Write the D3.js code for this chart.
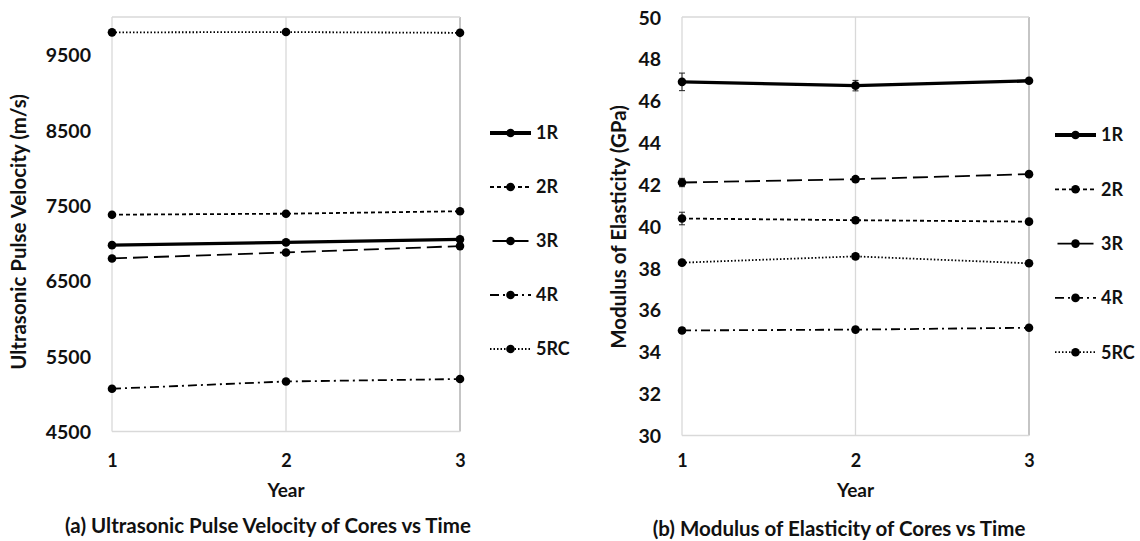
<!DOCTYPE html>
<html><head><meta charset="utf-8">
<script src="https://cdn.jsdelivr.net/npm/d3@7"></script>
<style>
body{margin:0;background:#fff;}
text{font-family:Lato,"Open Sans",sans-serif;font-weight:bold;fill:#111;}
</style></head>
<body><svg id="c" width="1140" height="541"></svg>
<script>
const years = [1, 2, 3];
const seriesNames = ["1R", "2R", "3R", "4R", "5RC"];
// Ultrasonic pulse velocity (m/s)
const upv1R = [6973, 7009, 7049];
const upv2R = [7377, 7390, 7423];
const upv3R = [6796, 6876, 6960];
const upv4R = [5067, 5164, 5196];
const upv5RC = [9796, 9800, 9790];
// Modulus of elasticity (GPa)
const moe1R = [46.9, 46.72, 46.95];
const moe2R = [40.37, 40.29, 40.22];
const moe3R = [42.09, 42.25, 42.49];
const moe4R = [35.02, 35.06, 35.15];
const moe5RC = [38.26, 38.56, 38.23];
const moeErr1R = [0.42, 0.25, 0.1];
const moeErr2R = [0.3, 0.12, 0.1];
const moeErr3R = [0.2, 0.12, 0.1];
const moeErr4R = [0.12, 0.1, 0.1];
const moeErr5RC = [0.1, 0.12, 0.1];
const upvTicks = [4500, 5500, 6500, 7500, 8500, 9500];
const moeTicks = [30, 32, 34, 36, 38, 40, 42, 44, 46, 48, 50];

const styles = {
  "1R": {w: 3.4, lw: 4, dash: null, lo: 0},
  "2R": {w: 1.8, lw: 1.8, dash: "4,3", lo: 0},
  "3R": {w: 1.8, lw: 1.8, dash: "15,6", lo: -2.5},
  "4R": {w: 1.8, lw: 1.8, dash: "9,4,2,4", lo: 0},
  "5RC": {w: 1.8, lw: 1.8, dash: "1.5,2", lo: 0}
};

const svg = d3.select("#c");

function panel(cfg) {
  const x = d3.scaleLinear().domain([1, 3]).range([cfg.x0, cfg.x1]);
  const y = d3.scaleLinear().domain(cfg.ydom).range([cfg.y0, cfg.y1]);
  const g = svg.append("g");
  // vertical gridlines
  g.selectAll(".vg").data(years).join("line")
    .attr("x1", d => x(d)).attr("x2", d => x(d))
    .attr("y1", y(cfg.ydom[0])).attr("y2", y(cfg.ydom[1]))
    .attr("stroke", d => d === 3 ? "#a6a6a6" : "#d9d9d9").attr("stroke-width", 1.3);
  // top & bottom border
  [cfg.ydom[0], cfg.ydom[1]].forEach(v => {
    g.append("line").attr("x1", x(1)).attr("x2", x(3)).attr("y1", y(v)).attr("y2", y(v))
      .attr("stroke", "#d9d9d9").attr("stroke-width", 1.3);
  });
  // y axis
  const ya = d3.axisLeft(y).tickValues(cfg.ticks).tickSize(0).tickPadding(21).tickFormat(d3.format("d"));
  const yg = g.append("g").attr("transform", `translate(${x(1)},0)`).call(ya);
  yg.select(".domain").remove();
  yg.selectAll("text").style("font-size", "19.5px").attr("dy", "0.36em");
  // x axis
  const xa = d3.axisBottom(x).tickValues(years).tickSize(0).tickPadding(0).tickFormat(d3.format("d"));
  const xg = g.append("g").attr("transform", `translate(0,${cfg.tickY})`).call(xa);
  xg.select(".domain").remove();
  xg.selectAll("text").style("font-size", "18px").attr("dy", "0").attr("y", 0);
  // titles
  g.append("text").attr("x", x(2)).attr("y", cfg.yearY).attr("text-anchor", "middle")
    .style("font-size", "19px").text("Year");
  g.append("text").attr("transform", `translate(${cfg.ytx},${cfg.ytc}) rotate(-90)`)
    .attr("text-anchor", "middle").style("font-size", "20.5px").text(cfg.ytitle);
  g.append("text").attr("x", cfg.capX).attr("y", cfg.capY).attr("text-anchor", "middle")
    .style("font-size", "20.5px").text(cfg.caption);
  // series
  const line = d3.line().x((d, i) => x(years[i])).y(d => y(d));
  cfg.data.forEach((vals, si) => {
    const name = seriesNames[si];
    const st = styles[name];
    if (cfg.err) {
      const e = cfg.err[si];
      vals.forEach((v, i) => {
        g.append("line").attr("x1", x(years[i])).attr("x2", x(years[i]))
          .attr("y1", y(v - e[i])).attr("y2", y(v + e[i])).attr("stroke", "#222").attr("stroke-width", 1);
        [v - e[i], v + e[i]].forEach(t => g.append("line").attr("x1", x(years[i]) - 3).attr("x2", x(years[i]) + 3)
          .attr("y1", y(t)).attr("y2", y(t)).attr("stroke", "#222").attr("stroke-width", 1));
      });
    }
    g.append("path").datum(vals).attr("d", line).attr("fill", "none").attr("stroke", "#000")
      .attr("stroke-width", st.w).attr("stroke-dasharray", st.dash);
    g.selectAll(null).data(vals).join("circle").attr("cx", (d, i) => x(years[i])).attr("cy", d => y(d))
      .attr("r", 4.3).attr("fill", "#000");
  });
  // legend
  seriesNames.forEach((name, i) => {
    const ly = cfg.legY0 + i * cfg.legDy;
    const st = styles[name];
    g.append("line").attr("x1", cfg.legX).attr("x2", cfg.legX + 41).attr("y1", ly).attr("y2", ly)
      .attr("stroke", "#000").attr("stroke-width", st.lw).attr("stroke-dasharray", st.dash)
      .attr("stroke-dashoffset", st.lo);
    g.append("circle").attr("cx", cfg.legX + 20.5).attr("cy", ly).attr("r", 4.3).attr("fill", "#000");
    g.append("text").attr("x", cfg.legX + 46).attr("y", ly).attr("dy", "0.36em")
      .style("font-size", "18px").text(name);
  });
}

panel({
  x0: 112, x1: 460, y0: 431.5, y1: 17, ydom: [4500, 10000], ticks: upvTicks, tickY: 467, yearY: 497,
  ytx: 26, ytc: 232, ytitle: "Ultrasonic Pulse Velocity (m/s)",
  capX: 268, capY: 533, caption: "(a) Ultrasonic Pulse Velocity of Cores vs Time",
  data: [upv1R, upv2R, upv3R, upv4R, upv5RC], err: null,
  legX: 490, legY0: 133, legDy: 54
});
panel({
  x0: 682, x1: 1029, y0: 435.5, y1: 17, ydom: [30, 50], ticks: moeTicks, tickY: 467, yearY: 497,
  ytx: 626, ytc: 227, ytitle: "Modulus of Elasticity (GPa)",
  capX: 839, capY: 536, caption: "(b) Modulus of Elasticity of Cores vs Time",
  data: [moe1R, moe2R, moe3R, moe4R, moe5RC], err: [moeErr1R, moeErr2R, moeErr3R, moeErr4R, moeErr5RC],
  legX: 1055, legY0: 135, legDy: 54.3
});
</script></body></html>
